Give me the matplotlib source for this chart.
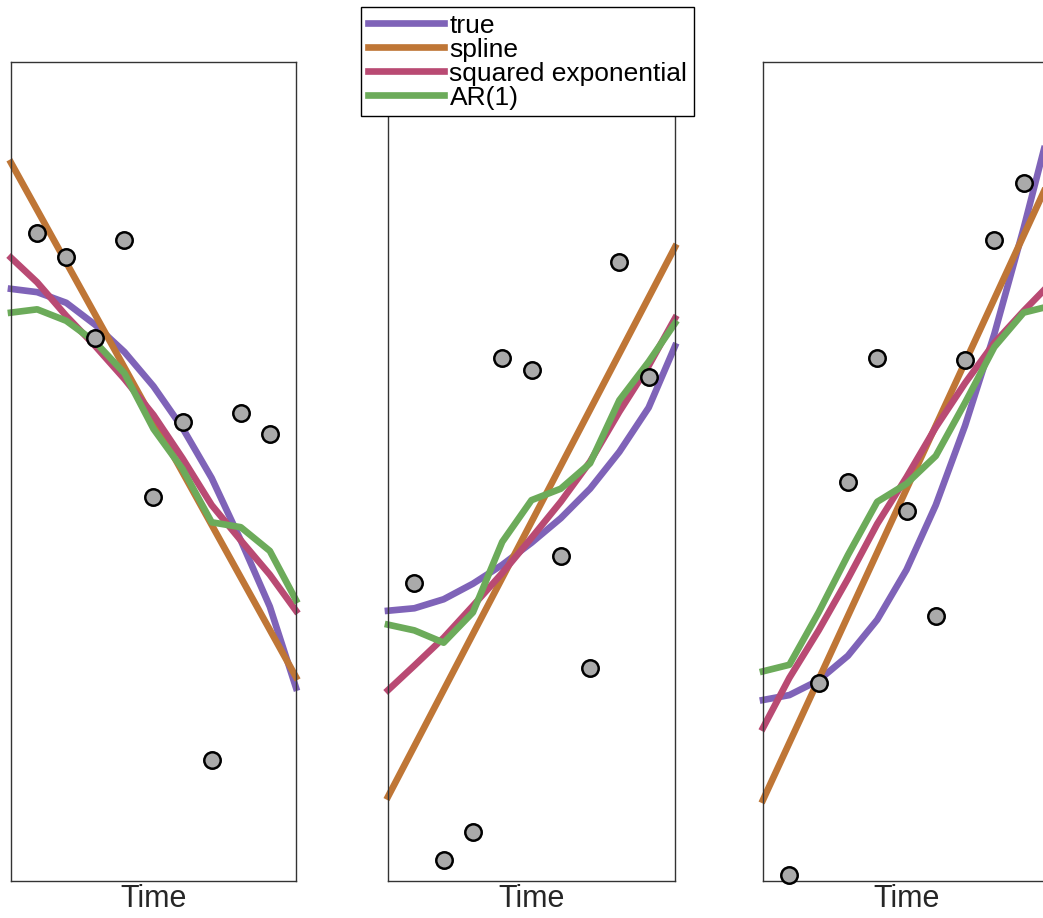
import numpy as np
import matplotlib
matplotlib.use('Agg')
import matplotlib.pyplot as plt

plt.rcParams['font.family'] = ['Liberation Sans', 'DejaVu Sans']

# time positions: observations at 1..9, curves evaluated on the panel edges too
T_OBS = [1, 2, 3, 4, 5, 6, 7, 8, 9]
T_CURVE = [0.1, 1, 2, 3, 4, 5, 6, 7, 8, 9, 9.9]
T_LINE = [0.1, 9.9]

# panel 1
obs1 = [7.91, 7.62, 6.63, 7.83, 4.69, 5.60, 1.48, 5.71, 5.46]
true1 = [7.23, 7.19, 7.06, 6.79, 6.46, 6.04, 5.53, 4.92, 4.16, 3.35, 2.36]
spline1 = [8.77, 2.49]
sqexp1 = [7.61, 7.31, 6.90, 6.53, 6.13, 5.69, 5.16, 4.59, 4.16, 3.74, 3.30]
ar1_1 = [6.94, 6.98, 6.84, 6.58, 6.20, 5.52, 5.03, 4.38, 4.32, 4.03, 3.43]

# panel 2
obs2 = [3.64, 0.26, 0.60, 6.39, 6.24, 3.97, 2.60, 7.56, 6.15]
true2 = [3.30, 3.33, 3.44, 3.63, 3.86, 4.13, 4.43, 4.79, 5.24, 5.78, 6.53]
spline2 = [1.03, 7.74]
sqexp2 = [2.33, 2.63, 2.97, 3.36, 3.76, 4.19, 4.63, 5.12, 5.73, 6.29, 6.87]
ar1_2 = [3.13, 3.06, 2.91, 3.28, 4.14, 4.65, 4.79, 5.10, 5.87, 6.34, 6.81]

# panel 3
obs3 = [0.07, 2.42, 4.87, 6.39, 4.52, 3.24, 6.36, 7.83, 8.52]
true3 = [2.21, 2.27, 2.45, 2.75, 3.19, 3.80, 4.59, 5.56, 6.68, 7.97, 9.22]
spline3 = [0.99, 8.58]
sqexp3 = [1.87, 2.48, 3.06, 3.69, 4.36, 4.93, 5.54, 6.08, 6.57, 6.96, 7.29]
ar1_3 = [2.56, 2.64, 3.28, 3.98, 4.63, 4.85, 5.19, 5.84, 6.52, 6.94, 7.02]

PANELS = [
    (obs1, true1, spline1, sqexp1, ar1_1),
    (obs2, true2, spline2, sqexp2, ar1_2),
    (obs3, true3, spline3, sqexp3, ar1_3),
]

COLORS = {
    "true": "#7f63b8",
    "spline": "#bf7636",
    "squared exponential": "#b94a73",
    "AR(1)": "#6cab5a",
}

W, H = 1043, 918
fig = plt.figure(figsize=(W / 100, H / 100), dpi=100)

lefts = [11, 388, 763]
widths = [285, 287, 287]
bottom_px, top_px = 881, 62

LW = 4.8
line_kw = dict(lw=LW, clip_on=False, zorder=2, solid_joinstyle="round", solid_capstyle="projecting")

handles = []
for i, (obs, tr, sp, se, ar) in enumerate(PANELS):
    ax = fig.add_axes([lefts[i] / W, (H - bottom_px) / H, widths[i] / W, (bottom_px - top_px) / H])
    ax.set_xlim(0.1, 9.9)
    ax.set_ylim(0, 10)
    h1, = ax.plot(T_CURVE, tr, color=COLORS["true"], **line_kw)
    h2, = ax.plot(T_LINE, sp, color=COLORS["spline"], **line_kw)
    h3, = ax.plot(T_CURVE, se, color=COLORS["squared exponential"], **line_kw)
    h4, = ax.plot(T_CURVE, ar, color=COLORS["AR(1)"], **line_kw)
    ax.scatter(T_OBS, obs, s=140, color="#aaaaaa", edgecolor="black", linewidth=1.8,
               zorder=5, clip_on=False)
    ax.set_xticks([])
    ax.set_yticks([])
    for s in ax.spines.values():
        s.set_color("#333333")
        s.set_linewidth(1.0)
    ax.set_xlabel("Time", fontsize=22, color="#262626", labelpad=2)
    if i == 0:
        handles = [h1, h2, h3, h4]

leg = fig.legend(handles, list(COLORS.keys()), loc="upper center",
                 bbox_to_anchor=(527.5 / W, 1 - 7 / H), borderaxespad=0,
                 fontsize=19, frameon=True, fancybox=False, edgecolor="black",
                 handlelength=2.9, handletextpad=0.2, labelspacing=0.0,
                 borderpad=0.25, framealpha=1)
leg.get_frame().set_linewidth(1.0)

fig.savefig("out.png", dpi=100)
